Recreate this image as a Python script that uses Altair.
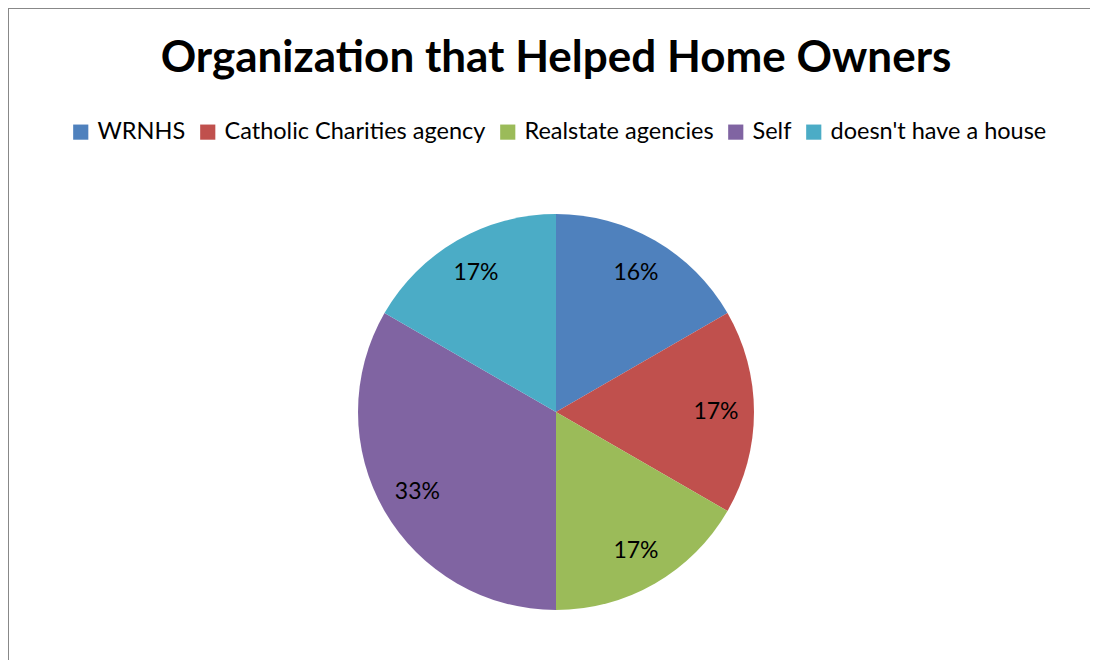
import altair as alt
import pandas as pd

categories = ["WRNHS", "Catholic Charities agency", "Realstate agencies", "Self", "doesn't have a house"]
shares = [1, 1, 1, 2, 1]
labels = ["16%", "17%", "17%", "33%", "17%"]
colors = ["#4F81BD", "#C0504D", "#9BBB59", "#8064A2", "#4BACC6"]

df = pd.DataFrame({"category": categories, "share": shares, "label": labels,
                   "order": list(range(len(categories)))})

FONT = "Lato"
W, H = 1082, 652
CX, CY = 548, 404

base = alt.Chart(df).encode(
    theta=alt.Theta("share:Q", stack=True),
    order=alt.Order("order:Q"),
)

pie = base.mark_arc(outerRadius=198, stroke=None).encode(
    x=alt.value(CX), y=alt.value(CY),
    color=alt.Color("category:N", sort=categories,
                    scale=alt.Scale(domain=categories, range=colors),
                    legend=alt.Legend(title=None, orient="none", direction="horizontal",
                                      columns=5, legendX=61, legendY=112,
                                      symbolType="square", symbolSize=230,
                                      symbolStrokeWidth=0, symbolOpacity=1,
                                      labelFont=FONT, labelFontSize=23.5,
                                      labelColor="#000000", labelOffset=5,
                                      columnPadding=10, labelLimit=400)),
)

text = base.mark_text(radius=160, font=FONT, fontSize=23, color="#000000").encode(
    x=alt.value(CX), y=alt.value(CY),
    text="label:N",
)

border_left = alt.Chart(df).mark_rule(color="#888888", strokeWidth=2).encode(
    x=alt.value(0), y=alt.value(0), y2=alt.value(H))
border_top = alt.Chart(df).mark_rule(color="#888888", strokeWidth=2).encode(
    x=alt.value(0), x2=alt.value(W), y=alt.value(0))

chart = alt.layer(pie, text, border_left, border_top).properties(
    width=W, height=H,
    autosize=alt.AutoSizeParams(type="none"),
    padding=0,
    title=alt.TitleParams("Organization that Helped Home Owners", font=FONT,
                          fontSize=44, fontWeight="bold", color="#000000",
                          anchor="middle", baseline="alphabetic", dx=7, dy=113),
).configure_view(stroke=None)

chart.save("out.html", embed_options={"renderer": "svg", "actions": False})
